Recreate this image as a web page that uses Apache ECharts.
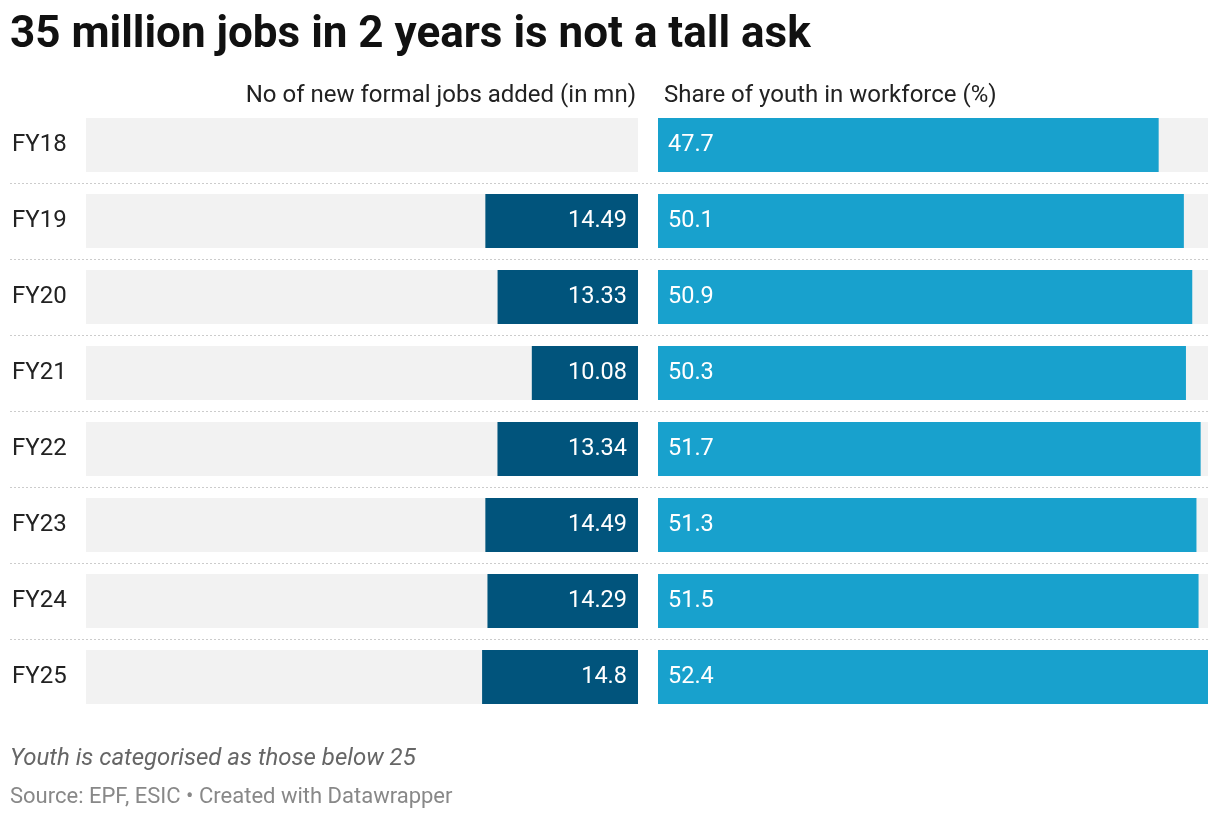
<!DOCTYPE html>
<html><head><meta charset="utf-8">
<script src="https://cdn.jsdelivr.net/npm/echarts@6/dist/echarts.min.js"></script>
<style>html,body{margin:0;padding:0;background:#fff}#c{width:1220px;height:818px}</style>
</head><body><div id="c"></div>
<script>
const categories = ['FY18','FY19','FY20','FY21','FY22','FY23','FY24','FY25'];
const newJobs = [null, 14.49, 13.33, 10.08, 13.34, 14.49, 14.29, 14.8];
const youthShare = [47.7, 50.1, 50.9, 50.3, 51.7, 51.3, 51.5, 52.4];
const axisMax = 52.4;
const bgVals = categories.map(() => axisMax);

const chart = echarts.init(document.getElementById('c'));
const font = 'Roboto, "Noto Sans", sans-serif';
const hiddenCat = {type:'category', data:categories, inverse:true, axisLine:{show:false}, axisTick:{show:false}, axisLabel:{show:false}};
chart.setOption({
  animation:false,
  textStyle:{fontFamily:font},
  title:[
    {text:'35 million jobs in 2 years is not a tall ask', left:5, top:9, textStyle:{fontSize:44, fontWeight:'bold', color:'#111', fontFamily:font}},
    {text:'No of new formal jobs added (in mn)', right:579, top:79, textStyle:{fontSize:24, fontWeight:'normal', color:'#222', fontFamily:font}},
    {text:'Share of youth in workforce (%)', left:659, top:79, textStyle:{fontSize:24, fontWeight:'normal', color:'#222', fontFamily:font}},
    {text:'Youth is categorised as those below 25', left:5, top:742, textStyle:{fontSize:24, fontWeight:'normal', fontStyle:'italic', color:'#666', fontFamily:font}},
    {text:'Source: EPF, ESIC \u2022 Created with Datawrapper', left:5, top:781, textStyle:{fontSize:22, fontWeight:'normal', color:'#888', fontFamily:font}}
  ],
  grid:[
    {left:86, width:552, top:107, height:608},
    {left:658, width:550, top:107, height:608},
    {left:10, width:1198, top:183, height:456}
  ],
  xAxis:[
    {gridIndex:0, type:'value', min:0, max:axisMax, inverse:true, show:false},
    {gridIndex:1, type:'value', min:0, max:axisMax, show:false},
    {gridIndex:2, type:'value', min:0, max:1, show:false}
  ],
  yAxis:[
    {gridIndex:0, type:'category', data:categories, inverse:true, axisLine:{show:false}, axisTick:{show:false},
      axisLabel:{show:true, align:'left', margin:74, fontSize:24, color:'#222', fontFamily:font}},
    Object.assign({gridIndex:1}, hiddenCat),
    {gridIndex:2, type:'value', min:0, max:6, interval:1, inverse:true, axisLine:{show:false}, axisTick:{show:false}, axisLabel:{show:false},
      splitLine:{show:true, lineStyle:{color:'#cccccc', width:1, type:[2,2]}}}
  ],
  series:[
    {type:'bar', xAxisIndex:0, yAxisIndex:0, data:bgVals, barWidth:54, silent:true, itemStyle:{color:'#f2f2f2'}, z:1},
    {type:'bar', xAxisIndex:0, yAxisIndex:0, data:newJobs, barWidth:54, barGap:'-100%', itemStyle:{color:'#01547c'}, z:2,
      label:{show:true, position:'insideRight', distance:11, color:'#fff', fontSize:23.5, fontFamily:font}},
    {type:'bar', xAxisIndex:1, yAxisIndex:1, data:bgVals, barWidth:54, silent:true, itemStyle:{color:'#f2f2f2'}, z:1},
    {type:'bar', xAxisIndex:1, yAxisIndex:1, data:youthShare, barWidth:54, barGap:'-100%', itemStyle:{color:'#18a1cd'}, z:2,
      label:{show:true, position:'insideLeft', distance:10, color:'#fff', fontSize:23.5, fontFamily:font,
        formatter:p => p.value.toFixed(1)}},
    {type:'line', xAxisIndex:2, yAxisIndex:2, data:[], silent:true}
  ]
});
</script></body></html>
